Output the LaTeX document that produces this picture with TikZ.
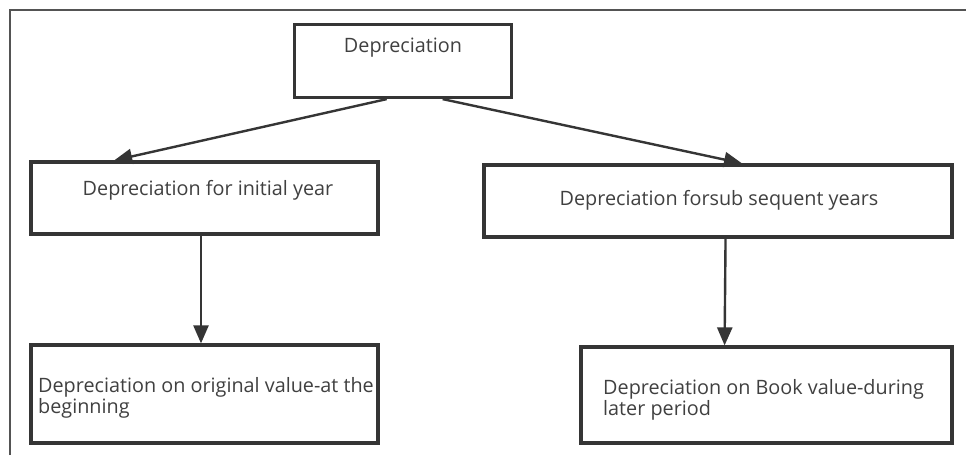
\documentclass[tikz,border=0pt]{standalone}
\usepackage{fontspec}
\setmainfont{Open Sans}
\usetikzlibrary{arrows.meta,calc}
\definecolor{linec}{HTML}{353535}
\definecolor{textc}{HTML}{404040}
\begin{document}
\begin{tikzpicture}[x=1pt,y=-1pt,
  box/.style={draw=linec,line width=3.2pt,rectangle,inner sep=0pt},
  txt/.style={text=textc,inner sep=0pt,font=\fontsize{19.8}{21}\selectfont},
  arr/.style={draw=linec,line width=2.4pt,-{Triangle[length=18pt,width=15pt]}},
  frame/.style={draw=linec!85,line width=1.6pt}]
\useasboundingbox (0,0) rectangle (966,455);
\fill[white] (0,0) rectangle (966,455);
\coordinate (fa) at (10,455);
\coordinate (fb) at (10,10);
\coordinate (fc) at (966,10);
\draw[frame] (fa) -- (fb) -- (fc);
% boxes
\node[box,minimum width=217pt,minimum height=73pt] (top) at (403,61) {};
\node[txt] (toptxt) at (403,48) {Depreciation};
\node[box,minimum width=347pt,minimum height=72pt] (lm) at (204.5,198) {};
\node[txt] (lmtxt) at (208,190) {Depreciation for initial year};
\node[box,minimum width=468pt,minimum height=72pt] (rm) at (718,201) {};
\node[txt] (rmtxt) at (719,200) {Depreciation forsub sequent years};
\node[box,minimum width=347pt,minimum height=98pt] (bl) at (204.5,394) {};
\node[txt,anchor=west,align=left] (bltxt) at (38,398) {Depreciation on original value-at the\\beginning};
\node[box,minimum width=371pt,minimum height=96pt] (br) at (766.5,395) {};
\node[txt,anchor=west,align=left] (brtxt) at (603,399.5) {Depreciation on Book value-during\\later period};
% connectors
\draw[arr] ($(top.south west)!0.426!(top.south east)$) -- ($(lm.north west)!0.242!(lm.north east)$);
\draw[arr] ($(top.south west)!0.68!(top.south east)$) -- ($(rm.north west)!0.551!(rm.north east)$);
\draw[arr] ($(lm.south west)!0.49!(lm.south east)$) -- ($(bl.north west)!0.49!(bl.north east)$);
\draw[arr] ($(rm.south west)!0.516!(rm.south east)$) -- ($(br.north west)!0.388!(br.north east)$);
\end{tikzpicture}
\end{document}
